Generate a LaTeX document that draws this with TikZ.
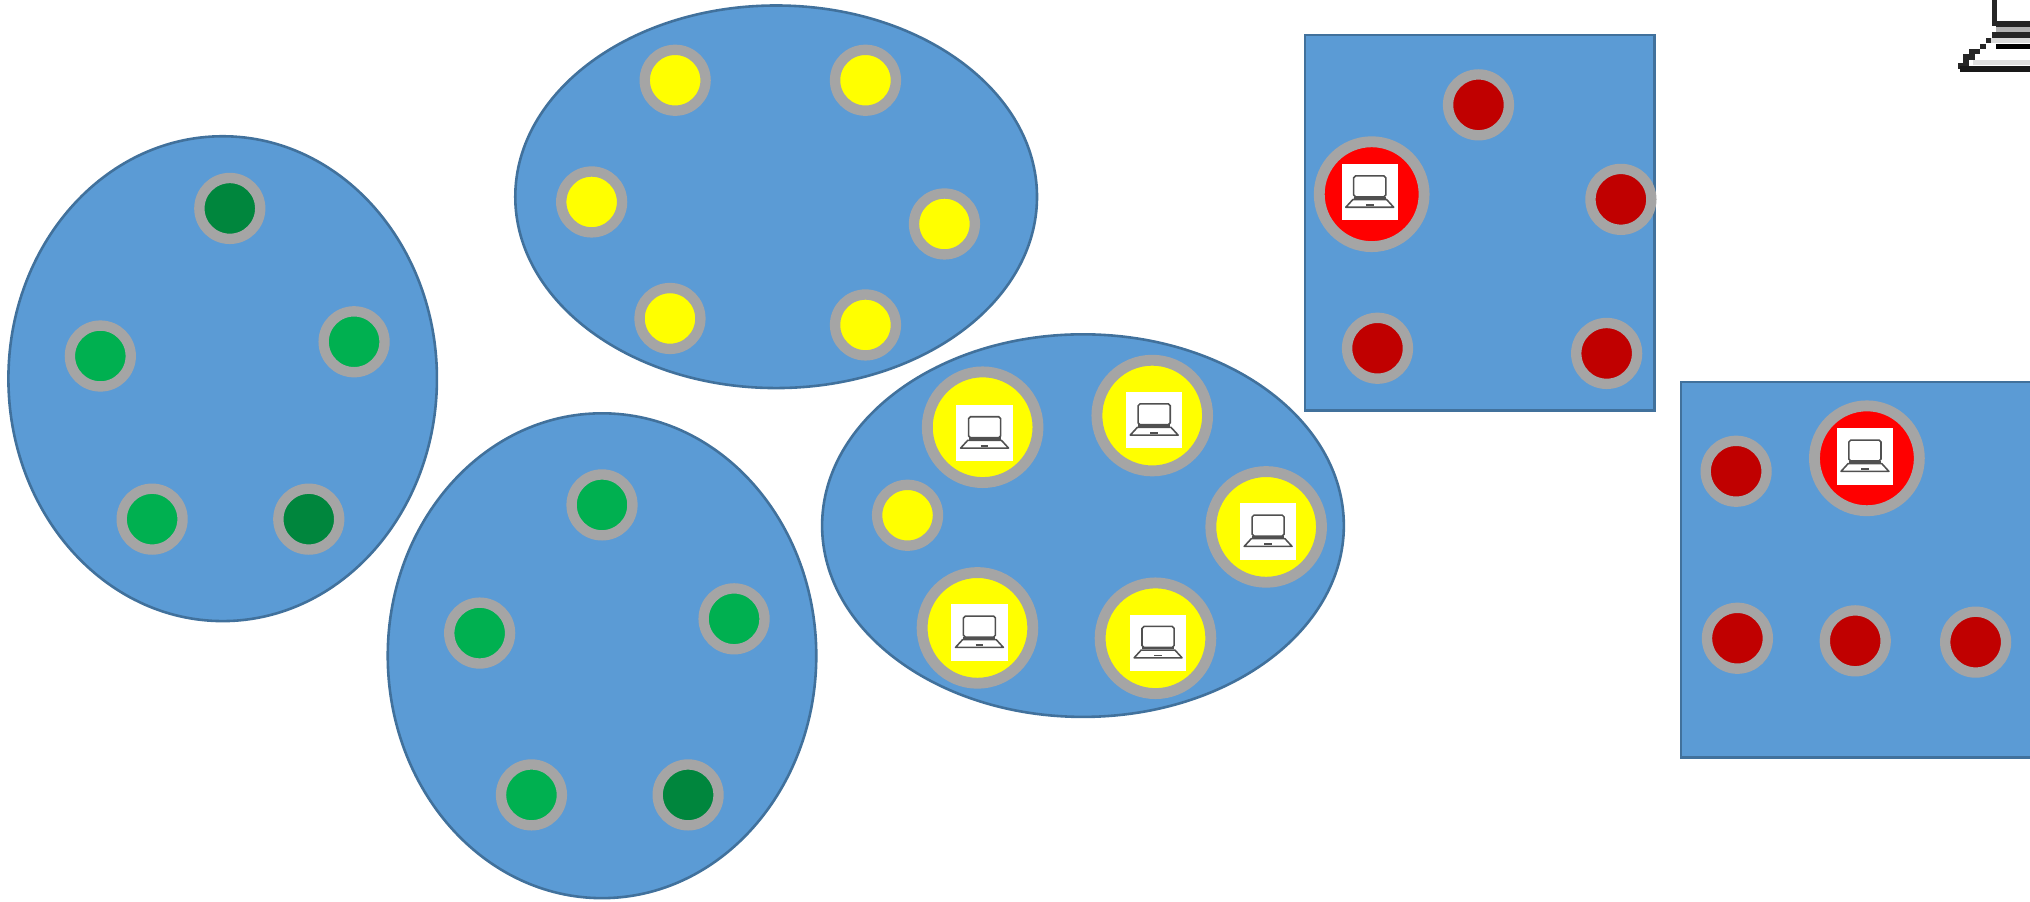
\documentclass[tikz,border=0pt]{standalone}
\usepackage{tikz}
\usetikzlibrary{shapes.geometric}
\newcommand{\pxu}{0.012946cm}
\definecolor{blueback}{HTML}{5B9BD5}
\definecolor{blueline}{HTML}{41719C}
\definecolor{ringgray}{HTML}{A5A5A5}
\definecolor{leafgreen}{HTML}{00B050}
\definecolor{deepgreen}{HTML}{00863D}
\definecolor{deepred}{HTML}{C00000}
\definecolor{hostred}{HTML}{FF0000}
\definecolor{peeryellow}{HTML}{FFFF00}
\definecolor{icongray}{HTML}{505050}
\tikzset{
  blob/.style={draw=blueline,fill=blueback,line width=2*\pxu,inner sep=0pt},
  tallblob/.style={blob,ellipse,minimum width=331*\pxu,minimum height=374.5*\pxu},
  wideblob/.style={blob,ellipse,minimum width=403*\pxu,minimum height=295.5*\pxu},
  squarebox/.style={blob,rectangle,minimum width=270*\pxu,minimum height=290*\pxu},
  peer/.style={circle,draw=ringgray,line width=8*\pxu,minimum size=47*\pxu,inner sep=0pt},
  hostpeer/.style={circle,draw=ringgray,line width=8.4*\pxu,minimum size=85.5*\pxu,inner sep=0pt},
  redhost/.style={hostpeer,fill=hostred,minimum size=81*\pxu},
  iconbox/.style={fill=white,minimum size=43.5*\pxu,inner sep=0pt},
  laptop/.pic={
    \node[iconbox] (-box) at (0,0) {};
    \draw[icongray,line width=1.2*\pxu,rounded corners=1.5*\pxu] (-12.4,3.6) rectangle (12.4,-12.6);
    \draw[icongray,line width=1.8*\pxu] (-12.4,4.2) -- (12.4,4.2);
    \draw[icongray,line width=1.2*\pxu,line join=round] (-13,5.6) -- (13,5.6) -- (18.5,11.6) -- (-18.5,11.6) -- cycle;
    \draw[icongray,line width=1.4*\pxu] (-3,9.8) -- (3,9.8);
  }
}
\begin{document}
\begin{tikzpicture}[x=\pxu,y=-\pxu]
\useasboundingbox (0,0) rectangle (1568,696);
\clip (0,0) rectangle (1568,696);

\node[tallblob] (groupa) at (172,292.5) {};
\node[wideblob] (groupb) at (599.5,152) {};
\node[tallblob] (groupc) at (465,506.5) {};
\node[wideblob] (groupd) at (836.5,406) {};
\node[squarebox] (groupe) at (1143,172) {};
\node[squarebox,minimum width=276*\pxu] (groupf) at (1436.5,440) {};

\node[peer,fill=deepgreen] (a1) at (177.5,161) {};
\node[peer,fill=leafgreen] (a2) at (77.5,275) {};
\node[peer,fill=leafgreen] (a3) at (273.5,264) {};
\node[peer,fill=leafgreen] (a4) at (117.5,401) {};
\node[peer,fill=deepgreen] (a5) at (238.5,401) {};

\node[peer,fill=peeryellow] (b1) at (521.5,62) {};
\node[peer,fill=peeryellow] (b2) at (668.5,62) {};
\node[peer,fill=peeryellow] (b3) at (457,156) {};
\node[peer,fill=peeryellow] (b4) at (729.5,173) {};
\node[peer,fill=peeryellow] (b5) at (517.5,246) {};
\node[peer,fill=peeryellow] (b6) at (668.5,251) {};

\node[peer,fill=leafgreen] (c1) at (465,390) {};
\node[peer,fill=leafgreen] (c2) at (370.5,489) {};
\node[peer,fill=leafgreen] (c3) at (567,478) {};
\node[peer,fill=leafgreen] (c4) at (410.5,614) {};
\node[peer,fill=deepgreen] (c5) at (531.5,614) {};

\node[peer,fill=peeryellow] (d1) at (701,398) {};
\node[hostpeer,fill=peeryellow] (d2) at (759,330) {};
\node[hostpeer,fill=peeryellow] (d3) at (890,321) {};
\node[hostpeer,fill=peeryellow] (d4) at (978,407) {};
\node[hostpeer,fill=peeryellow] (d5) at (755,485) {};
\node[hostpeer,fill=peeryellow] (d6) at (892.5,493) {};

\node[peer,fill=deepred] (e1) at (1142,81) {};
\node[peer,fill=deepred] (e2) at (1252,154) {};
\node[peer,fill=deepred] (e3) at (1064,269) {};
\node[peer,fill=deepred] (e4) at (1241,273) {};
\node[redhost] (e5) at (1059.5,150) {};

\node[peer,fill=deepred] (f1) at (1341,364) {};
\node[peer,fill=deepred] (f2) at (1342,493) {};
\node[peer,fill=deepred] (f3) at (1433,495) {};
\node[peer,fill=deepred] (f4) at (1526,496) {};
\node[redhost] (f5) at (1442,354) {};

\pic (icond2) at (760.5,334.5) {laptop};
\pic (icond3) at (891.5,324.5) {laptop};
\pic (icond4) at (979.5,410.5) {laptop};
\pic (icond5) at (756.5,488.5) {laptop};
\pic (icond6) at (894.5,496.5) {laptop};
\pic (icone5) at (1058,148.5) {laptop};
\pic (iconf5) at (1440.5,352.5) {laptop};

\foreach \xpos/\ypos in {1514.2/51,1518.6/48.9,1518.6/44.3,1523/44.3,1523/39.9,1527.3/39.9,1531.7/36,1536.1/31.4,1540.5/27,1540.5/18,1540.5/13.6,1540.5/9.2,1540.5/4.8,1540.5/0.4}
  \fill[black!85] (\xpos-2.2,\ypos-2.2) rectangle (\xpos+2.2,\ypos+2.2);
\foreach \ypos/\shade/\xstart in {53.3/90/1514,36/100/1542,27/85/1538.4,18.5/85/1542,22.7/30/1542,31.4/15/1538,48.4/12/1524}
  \fill[black!\shade] (\xstart,\ypos-2.2) rectangle (1568,\ypos+2.2);
\end{tikzpicture}
\end{document}
